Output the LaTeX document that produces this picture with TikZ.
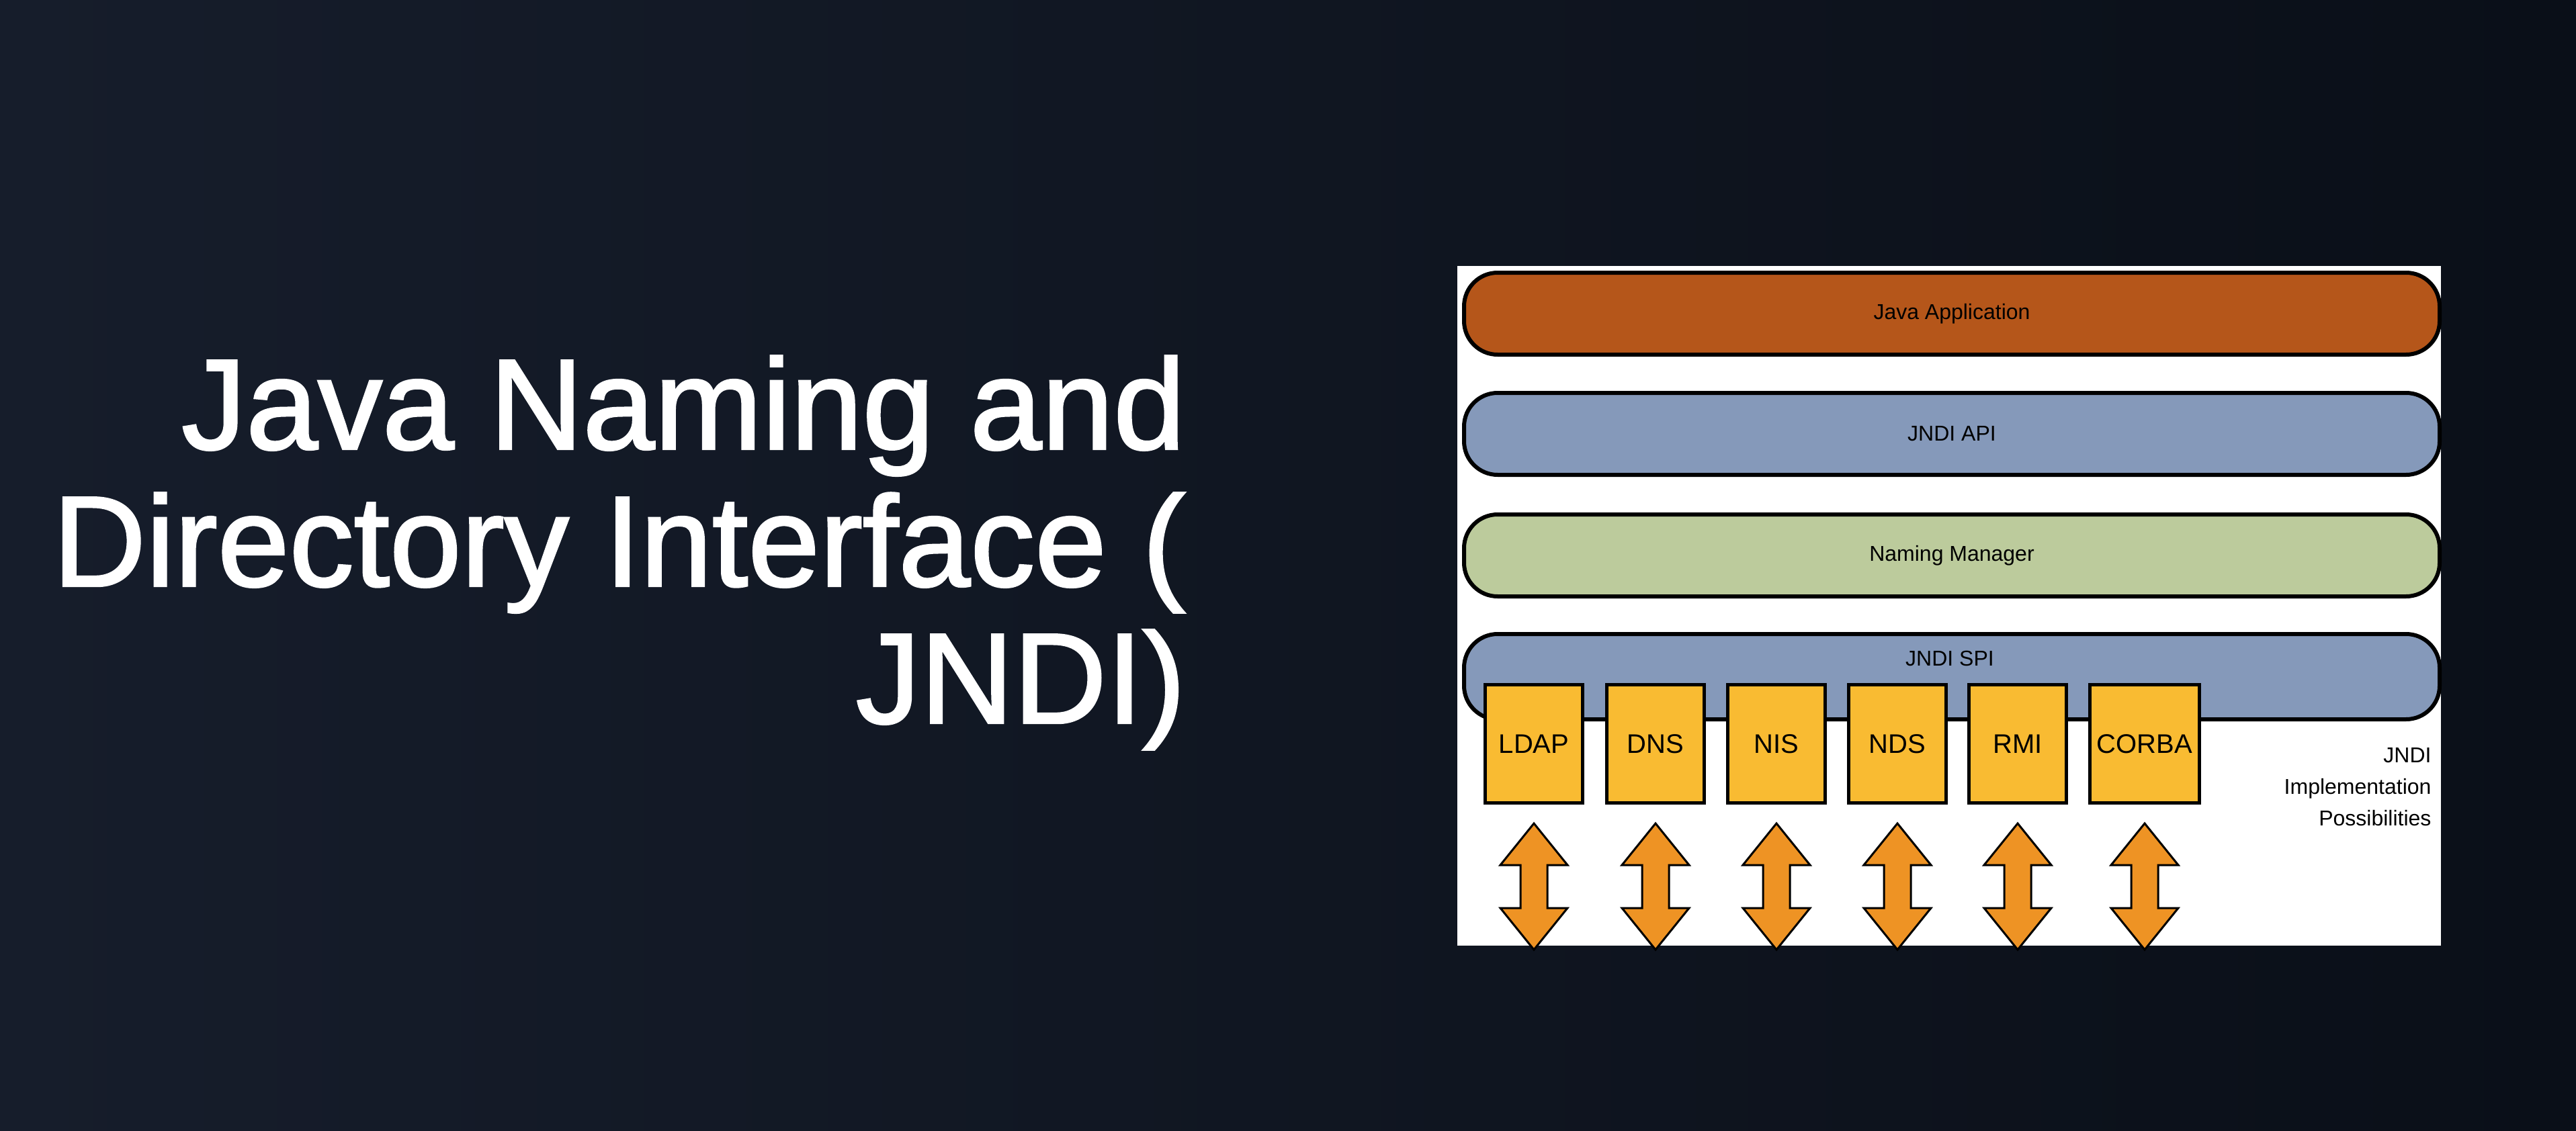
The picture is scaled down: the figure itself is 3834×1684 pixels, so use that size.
\documentclass[tikz,border=0pt]{standalone}
\usepackage{fontspec}
\setmainfont{Liberation Sans}
\newfontfamily\titlefont[FakeBold=1.6]{Liberation Sans}
\begin{document}
\begin{tikzpicture}[x=1pt,y=-1pt,
  bar/.style={draw=black,line width=6pt,rounded corners=50pt,minimum width=1452pt,minimum height=122pt,inner sep=0pt,anchor=north west,font=\fontsize{32}{38}\selectfont},
  impl/.style={draw=black,line width=5pt,fill=impbox,minimum height=176pt,inner sep=0pt,anchor=north west,font=\fontsize{40}{48}\selectfont},
  dbl/.style={draw=black,line width=3pt,fill=arrowc,line join=miter}]
\definecolor{bgl}{HTML}{161D2B}
\definecolor{bgr}{HTML}{0A0F18}
\definecolor{javac}{HTML}{B5561A}
\definecolor{apic}{HTML}{8599BA}
\definecolor{nmc}{HTML}{BCCB9C}
\definecolor{impbox}{HTML}{F9BB32}
\definecolor{arrowc}{HTML}{EE9324}
\useasboundingbox (0,0) rectangle (3834,1684);
\shade[left color=bgl,right color=bgr] (0,0) rectangle (3834,1684);
\fill[white] (2169,396) rectangle (3633,1408);
% title
\node[anchor=east,align=right,text=white,font=\titlefont\fontsize{192}{204}\selectfont] (title) at (1768,823)
 {Java Naming and\\Directory Interface (\\JNDI)};
% bars
\node[bar,fill=javac] (java) at (2176,403) {Java Application};
\node[bar,fill=apic] (api) at (2176,582) {JNDI API};
\node[bar,fill=nmc] (nm) at (2176,763) {Naming Manager};
\node[bar,fill=apic,minimum height=127pt] (spi) at (2176,941) {};
\node[font=\fontsize{32}{38}\selectfont] (spitxt) at (2902,980) {JNDI SPI};
% implementation boxes
\node[impl,minimum width=145pt] (ldap) at (2208,1017) {LDAP};
\node[impl,minimum width=145pt] (dns) at (2389,1017) {DNS};
\node[impl,minimum width=145pt] (nis) at (2569,1017) {NIS};
\node[impl,minimum width=145pt] (nds) at (2749,1017) {NDS};
\node[impl,minimum width=145pt] (rmi) at (2928,1017) {RMI};
\node[impl,minimum width=163pt] (corba) at (3108,1017) {CORBA};
\node[anchor=east,align=right,font=\fontsize{32}{47}\selectfont] (implnote) at (3622,1172)
 {JNDI\\Implementation\\Possibilities};
% double arrows
\foreach \n in {ldap,dns,nis,nds,rmi,corba}{
  \path (\n.south) coordinate (c);
  \draw[dbl] ([yshift=-28pt]c) -- ++(50,62) -- ++(-30,0) -- ++(0,64) -- ++(30,0)
    -- ++(-50,62) -- ++(-50,-62) -- ++(30,0) -- ++(0,-64) -- ++(-30,0) -- cycle;
}
\end{tikzpicture}
\end{document}
